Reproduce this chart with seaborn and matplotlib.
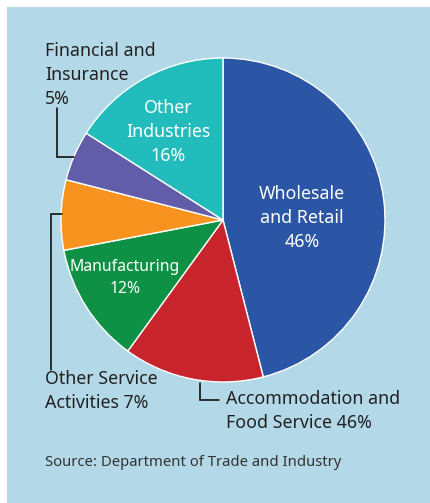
import matplotlib
matplotlib.use("Agg")
import matplotlib.pyplot as plt
import seaborn as sns
from matplotlib.patches import Rectangle

sns.set_theme(style="white")
plt.rcParams["font.family"] = ["Noto Sans", "DejaVu Sans"]

# Share of businesses by sector
sectors = ["Wholesale and Retail", "Accommodation and Food Service", "Manufacturing",
           "Other Service Activities", "Financial and Insurance", "Other Industries"]
shares = [46, 14, 12, 7, 5, 16]
colors = ["#2B55A5", "#C8242C", "#0E9144", "#F7931E", "#625DA8", "#22BCBC"]

W, H = 430, 503
fig = plt.figure(figsize=(W / 100, H / 100), dpi=100)
fig.patch.set_facecolor("white")

ax = fig.add_axes([0, 0, 1, 1])
ax.set_facecolor("none")

def Y(py):
    return H - py

# light blue panel behind the chart
ax.add_patch(Rectangle((7, 0), W - 7, H - 7, facecolor="#B3D8E7", edgecolor="none", zorder=0))

wedges, _ = ax.pie(shares, colors=colors, startangle=90, counterclock=False,
                   center=(223, Y(220)), radius=162,
                   wedgeprops=dict(edgecolor="white", linewidth=1.0))
for w in wedges:
    w.set_zorder(2)
ax.set_xlim(0, W)
ax.set_ylim(0, H)
ax.set_aspect("auto")
ax.axis("off")

dark = "#222222"
fs = 12.8
ls = 1.44

# labels inside slices
ax.text(302, Y(218), "Wholesale\nand Retail\n46%", color="white", fontsize=fs,
        ha="center", va="center", linespacing=ls, multialignment="center", zorder=3)
ax.text(168, Y(132), "Other\nIndustries\n16%", color="white", fontsize=fs,
        ha="center", va="center", linespacing=ls, multialignment="center", zorder=3)
ax.text(125, Y(278), "Manufacturing\n12%", color="white", fontsize=11.3,
        ha="center", va="center", linespacing=1.55, multialignment="center", zorder=3)

# labels outside with leader lines
ax.text(45, Y(75), "Financial and\nInsurance\n5%", color=dark, fontsize=fs,
        ha="left", va="center", linespacing=ls, zorder=3)
ax.plot([57, 57, 74], [Y(108), Y(157), Y(157)], color="black", lw=1.1,
        solid_joinstyle="miter", zorder=3)

ax.text(45, Y(391), "Other Service\nActivities 7%", color=dark, fontsize=fs,
        ha="left", va="center", linespacing=ls, zorder=3)
ax.plot([62, 51, 51], [Y(214), Y(214), Y(370)], color="black", lw=1.1,
        solid_joinstyle="miter", zorder=3)

ax.text(226, Y(411), "Accommodation and\nFood Service 46%", color=dark, fontsize=fs,
        ha="left", va="center", linespacing=ls, zorder=3)
ax.plot([200, 200, 219], [Y(383), Y(400), Y(400)], color="black", lw=1.1,
        solid_joinstyle="miter", zorder=3)

ax.text(45, Y(462), "Source: Department of Trade and Industry", color="#333333",
        fontsize=10.7, ha="left", va="center", zorder=3)

fig.savefig("out.png", dpi=100)
